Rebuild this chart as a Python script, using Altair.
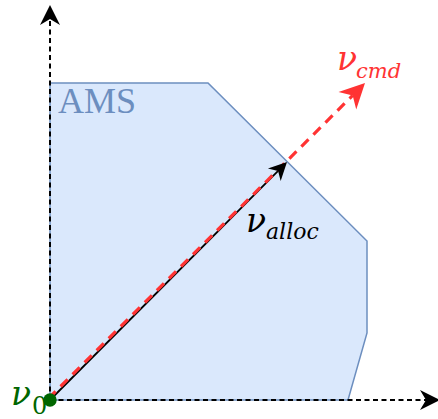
import math

import altair as alt
import pandas as pd

# Attainable moment set (AMS) outline, walked around from the origin
ams_x = [0, 0, 158, 317, 317, 298, 0]
ams_y = [0, 317, 317, 159, 67, 0, 0]

# Same region as a band: upper and lower edge at each break point along x
band_x = [0, 158, 298, 317]
band_top = [317, 317, 177, 159]
band_bottom = [0, 0, 0, 67]

# Arrow tips (origin is the common tail)
arrow_names = ["x_axis", "y_axis", "alloc", "cmd"]
arrow_tip_x = [390, 0, 237, 315]
arrow_tip_y = [0, 395, 238, 317]
arrow_head_len = [20, 20, 18, 25]
arrow_colors = ["#000000", "#000000", "#000000", "#ff3333"]
# small sideways shift so the dashed command vector stays visible beside v_alloc
arrow_shift_x = [0, 0, 0, -1.5]
arrow_shift_y = [0, 0, 0, 1.5]

# Labels: main symbol and subscript drawn as separate pieces
label_text = ["ν", "cmd", "ν", "alloc", "ν", "0", "AMS"]
label_x = [287, 306, 196, 216, -39, -18, 8]
label_y = [330, 322, 168, 161, -5, -14, 287]
label_size = [33, 21, 33, 22, 33, 24, 36]
label_color = ["#ff3333", "#ff3333", "#000000", "#000000", "#006600", "#006600", "#6c8ebf"]
label_font = ["DejaVu Serif", "DejaVu Serif", "DejaVu Serif", "DejaVu Serif",
              "DejaVu Serif", "DejaVu Serif", "Liberation Serif"]
label_style = ["italic", "italic", "italic", "italic", "italic", "normal", "normal"]

X_DOMAIN = [-50, 388]
Y_DOMAIN = [-19, 400]

# stealth-style arrowhead, tip at the symbol origin, pointing up
ARROW_PATH = "M0,0 L0.5,1 L0,0.7 L-0.5,1 Z"


def xq(field="x"):
    return alt.X(f"{field}:Q", scale=alt.Scale(domain=X_DOMAIN, nice=False, zero=False), axis=None)


def yq(field="y"):
    return alt.Y(f"{field}:Q", scale=alt.Scale(domain=Y_DOMAIN, nice=False, zero=False), axis=None)


band_df = pd.DataFrame({"x": band_x, "top": band_top, "bottom": band_bottom})
outline_df = pd.DataFrame({"x": ams_x, "y": ams_y, "i": range(len(ams_x))})

seg_rows, head_rows = [], []
for name, tx, ty, hl, col, sx, sy in zip(arrow_names, arrow_tip_x, arrow_tip_y,
                                         arrow_head_len, arrow_colors, arrow_shift_x, arrow_shift_y):
    length = math.hypot(tx, ty)
    ux, uy = tx / length, ty / length
    end_x, end_y = tx - ux * hl * 0.7, ty - uy * hl * 0.7
    seg_rows.append({"name": name, "x": sx, "y": sy, "i": 0})
    seg_rows.append({"name": name, "x": end_x, "y": end_y, "i": 1})
    angle = (90 - math.degrees(math.atan2(ty, tx))) % 360
    head_rows.append({"name": name, "x": tx, "y": ty, "angle": angle,
                      "size": hl * hl * 4, "color": col})
seg_df = pd.DataFrame(seg_rows)
head_df = pd.DataFrame(head_rows)

label_df = pd.DataFrame({
    "text": label_text, "x": label_x, "y": label_y, "size": label_size,
    "color": label_color, "font": label_font, "style": label_style,
})

fill = alt.Chart(band_df).mark_area(color="#dae8fc", opacity=1).encode(
    x=xq(), y=yq("top"), y2="bottom:Q"
)

outline = alt.Chart(outline_df).mark_line(color="#6c8ebf", strokeWidth=1.5).encode(
    x=xq(), y=yq(), order="i:Q"
)

axes = alt.Chart(seg_df).transform_filter(
    alt.FieldOneOfPredicate(field="name", oneOf=["x_axis", "y_axis"])
).mark_line(color="black", strokeWidth=2, strokeDash=[5, 3.5]).encode(
    x=xq(), y=yq(), order="i:Q", detail="name:N"
)

alloc_line = alt.Chart(seg_df).transform_filter(
    alt.datum.name == "alloc"
).mark_line(color="black", strokeWidth=1.8).encode(
    x=xq(), y=yq(), order="i:Q"
)

cmd_line = alt.Chart(seg_df).transform_filter(
    alt.datum.name == "cmd"
).mark_line(color="#ff3333", strokeWidth=3.2, strokeDash=[10, 7]).encode(
    x=xq(), y=yq(), order="i:Q"
)

heads = alt.Chart(head_df).mark_point(shape=ARROW_PATH, filled=True, opacity=1, strokeWidth=0).encode(
    x=xq(), y=yq(),
    angle=alt.Angle("angle:Q", scale=None),
    size=alt.Size("size:Q", scale=None),
    color=alt.Color("color:N", scale=None),
)

origin_dot = alt.Chart(pd.DataFrame({"x": [0], "y": [0]})).mark_point(
    shape="circle", filled=True, opacity=1, size=180, color="#006600"
).encode(x=xq(), y=yq())

labels = []
for font, style in sorted(set(zip(label_font, label_style))):
    sub = label_df[(label_df["font"] == font) & (label_df["style"] == style)]
    labels.append(
        alt.Chart(sub).mark_text(align="left", baseline="alphabetic", font=font, fontStyle=style).encode(
            x=xq(), y=yq(), text="text:N",
            size=alt.Size("size:Q", scale=None),
            color=alt.Color("color:N", scale=None),
        )
    )

chart = alt.layer(
    fill, outline, axes, alloc_line, cmd_line, heads, origin_dot, *labels
).properties(
    width=438, height=419, padding=0, autosize=alt.AutoSizeParams(type="none")
).configure_view(stroke=None)

chart.save("out.html", embed_options={"renderer": "svg", "actions": False})
